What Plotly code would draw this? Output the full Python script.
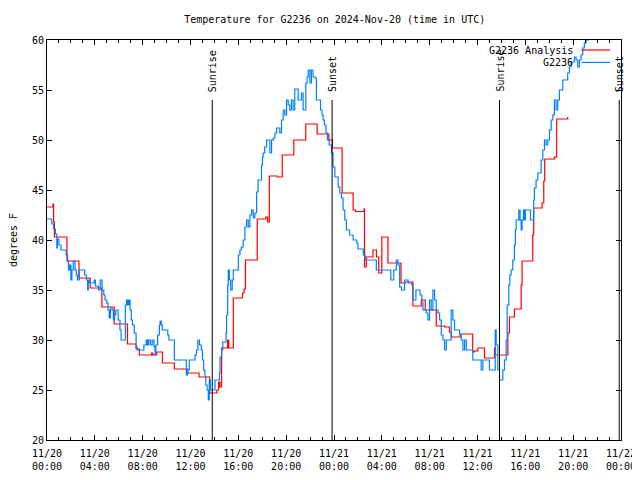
import pandas as pd
import plotly.graph_objects as go

# ---------------- data ----------------
BASE = "2024-11-20 00:00"

# Observations (G2236), hours since 11/20 00:00 UTC, deg F
obs_hours = [0.0, 0.4, 0.55, 0.7, 0.82, 0.87, 1.0, 1.17, 1.6, 1.72, 1.8, 1.9, 2.0, 2.08, 2.2, 2.35, 2.45, 2.55, 2.7,
             3.15, 3.3, 3.4, 3.45, 3.55, 3.95, 4.05, 4.3, 4.45, 4.6, 4.75, 4.85, 5.0, 5.1, 5.2, 5.3, 5.45, 5.55, 5.65,
             5.75, 5.95, 6.1, 6.2, 6.45, 6.55, 6.65, 6.75, 6.85, 6.95, 7.05, 7.15, 7.3, 7.45, 7.55, 7.95, 8.1, 8.3,
             8.4, 8.5, 8.65, 8.8, 8.95, 9.04, 9.1, 9.25, 9.4, 9.46, 9.55, 9.65, 10.1, 10.2, 10.65, 11.55, 11.65,
             11.75, 11.9, 12.2, 12.38, 12.5, 12.62, 12.75, 12.9, 13.0, 13.1, 13.21, 13.28, 13.39, 13.49, 13.57,
             13.66, 13.91, 14.05, 14.42, 14.47, 14.61, 14.7, 14.97, 15.02, 15.11, 15.16, 15.25, 15.36, 15.49, 15.58,
             15.85, 16.0, 16.13, 16.25, 16.41, 16.55, 16.69, 16.83, 16.97, 17.11, 17.25, 17.38, 17.53, 17.65, 17.8,
             17.94, 18.02, 18.08, 18.2, 18.36, 18.5, 18.64, 18.78, 18.92, 19.06, 19.2, 19.35, 19.47, 19.61, 19.75,
             19.89, 20.03, 20.17, 20.3, 20.44, 20.58, 20.72, 20.86, 21.0, 21.14, 21.28, 21.42, 21.56, 21.64, 21.75,
             21.84, 21.98, 22.11, 22.25, 22.4, 22.53, 22.75, 22.87, 23.0, 23.09, 23.2, 23.33, 23.45, 23.6, 23.79,
             23.92, 24.07, 24.21, 24.35, 24.48, 24.62, 24.76, 24.9, 25.04, 25.3, 25.6, 25.9, 26.0, 26.3, 26.45,
             26.6, 27.54, 28.75, 29.0, 29.21, 29.35, 29.49, 29.65, 29.9, 30.2, 30.5, 30.6, 30.85, 31.2, 31.35,
             31.44, 31.71, 31.85, 31.99, 32.13, 32.27, 32.41, 32.55, 32.69, 32.83, 32.97, 33.11, 33.25, 33.39,
             33.8, 33.94, 34.08, 34.5, 34.64, 34.78, 34.92, 35.06, 35.61, 36.31, 36.45, 37.0, 37.48, 37.56, 37.7,
             37.84, 38.12, 38.26, 38.4, 38.48, 38.62, 38.7, 38.81, 38.95, 39.09, 39.17, 39.23, 39.45, 39.56, 39.65,
             39.73, 39.84, 39.92, 40.0, 40.43, 40.7, 40.76, 40.9, 41.04, 41.32, 41.46, 41.6, 41.74, 41.88, 42.02,
             42.16, 42.3, 42.43, 42.57, 42.71, 42.85, 43.13, 43.54, 43.68, 43.82, 44.1, 44.24, 44.38, 44.52, 44.66,
             44.8, 44.93, 45.08, 45.3, 45.6]
obs_temp = [42.1, 41.6, 41.1, 40.6, 39.2, 40.1, 39.5, 39.0, 38.5, 37.9, 37.0, 37.5, 36.0, 37.0, 37.9, 37.0, 36.5,
            36.0, 37.0, 36.5, 36.0, 35.0, 36.0, 35.7, 36.0, 35.4, 35.0, 36.0, 35.0, 34.5, 34.0, 33.7, 33.0, 32.2,
            33.2, 33.0, 32.0, 32.5, 33.0, 32.0, 31.0, 30.0, 30.0, 33.5, 34.0, 33.5, 34.0, 33.0, 32.0, 31.5, 30.7,
            29.3, 29.0, 29.0, 29.5, 30.0, 29.5, 30.0, 29.5, 30.0, 29.3, 28.5, 29.5, 30.5, 31.5, 31.9, 31.5, 31.0,
            30.5, 30.0, 28.0, 28.0, 26.5, 27.0, 28.0, 28.0, 28.5, 29.0, 30.0, 29.5, 29.0, 28.0, 27.0, 26.3, 25.5,
            25.0, 24.0, 26.0, 25.0, 25.0, 26.0, 26.7, 28.3, 29.0, 29.8, 30.7, 32.5, 35.5, 37.0, 36.0, 35.0, 36.0,
            37.0, 37.0, 38.5, 39.0, 39.3, 40.0, 41.3, 42.0, 41.3, 42.5, 43.0, 42.2, 42.7, 44.8, 46.0, 46.0, 47.5,
            48.3, 48.7, 49.3, 50.0, 50.0, 48.7, 50.0, 50.2, 50.7, 51.2, 51.2, 50.7, 52.0, 53.0, 52.5, 54.0, 53.5,
            53.0, 54.0, 53.0, 55.1, 55.1, 54.0, 54.0, 54.7, 53.0, 53.0, 55.7, 56.3, 57.0, 55.7, 57.0, 56.3, 56.2,
            54.0, 54.0, 53.0, 52.5, 52.0, 51.5, 50.7, 50.0, 49.5, 48.7, 47.3, 46.3, 46.3, 45.3, 44.7, 44.2, 43.0,
            42.0, 41.0, 40.5, 40.0, 39.7, 39.1, 39.1, 38.5, 38.0, 37.0, 36.0, 37.0, 38.0, 37.5, 35.3, 35.0, 36.0,
            35.7, 35.5, 34.0, 35.0, 34.5, 33.8, 33.0, 32.7, 32.0, 34.0, 33.0, 35.0, 34.0, 33.0, 32.7, 32.0, 30.5,
            30.0, 29.0, 30.0, 33.0, 32.0, 31.0, 30.5, 30.0, 29.0, 30.0, 29.0, 28.0, 27.0, 28.0, 27.0, 31.0, 29.5,
            27.0, 26.0, 27.0, 28.0, 30.0, 33.5, 35.5, 36.5, 37.0, 38.0, 39.5, 41.0, 42.0, 43.0, 42.0, 41.0, 42.0,
            43.0, 42.0, 43.0, 42.0, 44.0, 45.2, 46.0, 46.7, 48.0, 49.0, 50.0, 49.5, 50.0, 51.0, 52.0, 52.5, 54.0,
            53.0, 54.0, 55.0, 56.0, 56.7, 57.3, 57.8, 58.3, 58.0, 57.3, 58.0, 58.5, 59.2, 59.7, 60.0, 61.0, 62.0]

# Analysis (G2236 Analysis)
ana_hours = [0.0, 0.5, 0.55, 0.62, 1.67, 2.67, 3.61, 4.59, 5.62, 6.73, 7.45, 7.73, 8.75, 8.85, 9.18, 9.65, 10.65,
             11.77, 12.71, 13.6, 14.2, 14.35, 14.45, 14.6, 15.1, 15.2, 15.58, 16.35, 16.48, 16.6, 17.58, 18.3,
             18.45, 18.59, 19.25, 19.67, 20.64, 21.64, 22.59, 23.56, 23.87, 24.68, 25.6, 25.8, 26.5, 26.55, 26.7,
             27.26, 27.55, 27.74, 28.0, 28.51, 29.6, 29.95, 30.6, 31.3, 31.63, 32.55, 33.25, 33.66, 33.8, 34.6,
             35.6, 35.75, 36.03, 36.59, 37.42, 37.5, 38.54, 38.67, 39.09, 39.65, 39.73, 40.62, 40.7, 41.4, 41.54,
             41.62, 42.43, 42.62, 43.54]
ana_temp = [43.3, 43.6, 41.8, 40.3, 37.9, 36.2, 35.2, 33.3, 31.6, 29.6, 29.1, 28.5, 28.7, 28.5, 28.8, 27.7, 27.1,
            26.7, 26.3, 24.7, 25.0, 25.8, 25.3, 29.2, 30.0, 29.2, 34.2, 34.7, 35.1, 38.0, 42.1, 42.3, 41.8, 46.4,
            46.3, 48.5, 50.0, 51.6, 50.6, 50.0, 49.2, 44.7, 43.0, 42.85, 43.1, 37.3, 38.3, 39.0, 38.3, 36.7, 40.3,
            37.7, 35.7, 35.8, 33.4, 34.0, 33.0, 31.4, 31.3, 30.8, 30.3, 30.6, 28.8, 28.9, 29.2, 28.2, 29.2, 28.5,
            30.7, 32.3, 33.1, 35.5, 37.9, 40.5, 43.2, 43.7, 45.9, 48.1, 48.3, 52.1, 52.3]

sun_hours = [13.82, 23.84, 37.84, 47.85]
sun_labels = ["Sunrise", "Sunset", "Sunrise", "Sunset"]

tick_hours = list(range(0, 49, 4))
tick_labels = ["11/20<br>00:00", "11/20<br>04:00", "11/20<br>08:00", "11/20<br>12:00", "11/20<br>16:00",
               "11/20<br>20:00", "11/21<br>00:00", "11/21<br>04:00", "11/21<br>08:00", "11/21<br>12:00",
               "11/21<br>16:00", "11/21<br>20:00", "11/22<br>00:00"]

series_names = ["G2236 Analysis", "G2236"]
series_colors = ["#ff0000", "#0080ff"]

# ---------------- figure ----------------
base = pd.Timestamp(BASE)
to_t = lambda hs: [base + pd.to_timedelta(h, unit="h") for h in hs]

FONT = "DejaVu Sans Mono"
fig = go.Figure()
fig.add_trace(go.Scatter(x=to_t(ana_hours), y=ana_temp, mode="lines", line_shape="hv",
                         line=dict(color=series_colors[0], width=1.2), name=series_names[0], showlegend=False))
fig.add_trace(go.Scatter(x=to_t(obs_hours), y=obs_temp, mode="lines", line_shape="hv",
                         line=dict(color=series_colors[1], width=1.2), name=series_names[1], showlegend=False))

for h, lab in zip(sun_hours, sun_labels):
    tt = base + pd.to_timedelta(h, unit="h")
    fig.add_shape(type="line", xref="x", yref="y", x0=tt, x1=tt, y0=20, y1=54,
                  line=dict(color="black", width=1))
    fig.add_annotation(x=tt, y=54, xref="x", yref="y", text=lab, textangle=-90, showarrow=False,
                       xanchor="center", yanchor="bottom", yshift=6, font=dict(family=FONT, size=10, color="black"))

# gnuplot-style key: text right-aligned, sample line on the right
for i, (nm, col) in enumerate(zip(series_names, series_colors)):
    yk = 0.975 - i * 0.031
    fig.add_annotation(x=0.919, y=yk, xref="paper", yref="paper", text=nm, showarrow=False,
                       xanchor="right", yanchor="middle", font=dict(family=FONT, size=10, color="black"))
    fig.add_shape(type="line", xref="paper", yref="paper", x0=0.931, x1=0.981, y0=yk, y1=yk,
                  line=dict(color=col, width=1.2))

# page body has an 8px margin: size the figure so the plot area sits where the reference has it
fig.update_layout(
    width=632, height=472,
    margin=dict(l=39, r=19, t=32, b=40, autoexpand=False),
    paper_bgcolor="white", plot_bgcolor="white",
    font=dict(family=FONT, size=10, color="black"),
    title=dict(text="Temperature for G2236 on 2024-Nov-20 (time in UTC)", x=0.517, xanchor="center",
               y=0.975, yanchor="middle", font=dict(family=FONT, size=10, color="black")),
    showlegend=False,
)
fig.update_xaxes(
    type="date", range=[base, base + pd.to_timedelta(48, unit="h")],
    tickvals=to_t(tick_hours), ticktext=tick_labels,
    ticks="inside", ticklen=5, tickcolor="black", mirror="allticks",
    showline=True, linecolor="black", linewidth=1, showgrid=False, zeroline=False,
    minor=dict(ticks="inside", ticklen=3, dtick=3600000, tickcolor="black", showgrid=False),
    tickfont=dict(family=FONT, size=10, color="black"), ticklabelstandoff=4,
)
fig.update_yaxes(
    range=[20, 60], dtick=5, tick0=20,
    ticks="inside", ticklen=5, tickcolor="black", mirror="allticks",
    showline=True, linecolor="black", linewidth=1, showgrid=False, zeroline=False,
    title=dict(text="degrees F", font=dict(family=FONT, size=10, color="black"), standoff=15),
    tickfont=dict(family=FONT, size=10, color="black"),
)

fig.write_html("out.html")
